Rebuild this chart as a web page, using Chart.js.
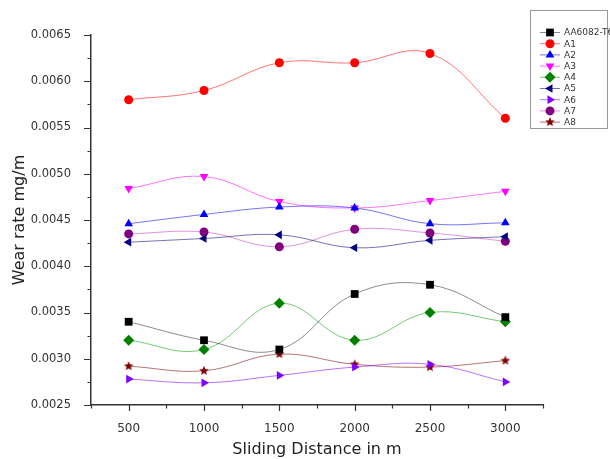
<!DOCTYPE html>
<html>
<head>
<meta charset="utf-8">
<script src="https://cdn.jsdelivr.net/npm/chart.js@4/dist/chart.umd.min.js"></script>
<style>
  body { margin: 0; background: #fff; }
  #wrap { width: 610px; height: 459px; }
</style>
</head>
<body>
<div id="wrap"><canvas id="myChart"></canvas></div>
<script>
var distances = [500, 1000, 1500, 2000, 2500, 3000];

var seriesNames = ["AA6082-T6", "A1", "A2", "A3", "A4", "A5", "A6", "A7", "A8"];

var aa6082 = [0.00340, 0.00320, 0.00310, 0.00370, 0.00380, 0.00345];
var a1 = [0.00580, 0.00590, 0.00620, 0.00620, 0.00630, 0.00560];
var a2 = [0.00446, 0.00456, 0.00464, 0.00463, 0.00446, 0.00447];
var a3 = [0.00484, 0.00497, 0.00470, 0.00463, 0.00471, 0.00481];
var a4 = [0.00320, 0.00310, 0.00360, 0.00320, 0.00350, 0.00340];
var a5 = [0.00426, 0.00430, 0.00434, 0.00420, 0.00428, 0.00432];
var a6 = [0.00278, 0.00274, 0.00282, 0.00291, 0.00294, 0.00275];
var a7 = [0.00435, 0.00437, 0.00421, 0.00440, 0.00436, 0.00427];
var a8 = [0.00292, 0.00287, 0.00305, 0.00294, 0.00291, 0.00298];

var xTitle = "Sliding Distance in m";
var yTitle = "Wear rate mg/m";

// star marker for A8
function makeStar(color, r) {
    var c = document.createElement("canvas");
    c.width = r * 2 + 2;
    c.height = r * 2 + 2;
    var g = c.getContext("2d");
    g.fillStyle = color;
    g.beginPath();
    for (var i = 0; i < 10; i++) {
        var rr = (i % 2 === 0) ? r : r * 0.45;
        var a = -Math.PI / 2 + i * Math.PI / 5;
        var px = r + 1 + rr * Math.cos(a);
        var py = r + 1 + rr * Math.sin(a);
        if (i === 0) g.moveTo(px, py); else g.lineTo(px, py);
    }
    g.closePath();
    g.fill();
    return c;
}

var styles = [
    { color: "#000000", line: "rgba(0,0,0,0.45)", point: "rect", rot: 0, r: 5.5 },
    { color: "#ff0000", line: "rgba(255,0,0,0.55)", point: "circle", rot: 0, r: 4.5 },
    { color: "#0000ff", line: "rgba(0,0,255,0.55)", point: "triangle", rot: 0, r: 5 },
    { color: "#ff00ff", line: "rgba(255,0,255,0.55)", point: "triangle", rot: 180, r: 5 },
    { color: "#008000", line: "rgba(0,160,0,0.55)", point: "rectRot", rot: 0, r: 5.5 },
    { color: "#000080", line: "rgba(0,0,128,0.55)", point: "triangle", rot: -90, r: 5 },
    { color: "#8000ff", line: "rgba(128,0,255,0.55)", point: "triangle", rot: 90, r: 5 },
    { color: "#800080", line: "rgba(200,60,200,0.55)", point: "circle", rot: 0, r: 4.5 },
    { color: "#800000", line: "rgba(128,0,0,0.55)", point: makeStar("#800000", 5), rot: 0, r: 5 }
];

var allSeries = [aa6082, a1, a2, a3, a4, a5, a6, a7, a8];

var datasets = allSeries.map(function (vals, i) {
    var s = styles[i];
    return {
        label: seriesNames[i],
        data: vals.map(function (v, j) { return { x: distances[j], y: v }; }),
        borderColor: s.line,
        borderWidth: 1,
        backgroundColor: s.color,
        pointBackgroundColor: s.color,
        pointBorderColor: s.color,
        pointBorderWidth: 0,
        pointStyle: s.point,
        pointRotation: s.rot,
        pointRadius: s.r,
        pointHoverRadius: s.r,
        tension: 0.4,
        fill: false
    };
});

function isMajor(v, step) {
    return Math.round(v / step) % 2 === 0;
}

// tick marks, long for labelled ticks and short for the ones between
var tickMarks = {
    id: "tickMarks",
    afterDraw: function (chart) {
        var ctx = chart.ctx;
        var xs = chart.scales.x, ys = chart.scales.y;
        var ca = chart.chartArea;
        ctx.save();
        ctx.strokeStyle = "#333";
        ctx.lineWidth = 1.2;
        ctx.beginPath();
        xs.ticks.forEach(function (t) {
            var px = Math.round(xs.getPixelForValue(t.value)) + 0.5;
            var len = isMajor(t.value, 250) ? 6 : 3.5;
            ctx.moveTo(px, ca.bottom);
            ctx.lineTo(px, ca.bottom + len);
        });
        ys.ticks.forEach(function (t) {
            var py = Math.round(ys.getPixelForValue(t.value)) + 0.5;
            var len = isMajor(t.value, 0.00025) ? 7 : 3.5;
            ctx.moveTo(ca.left, py);
            ctx.lineTo(ca.left - len, py);
        });
        ctx.stroke();
        ctx.restore();
    }
};

// framed legend in the top right corner: line + marker + name
var boxLegend = {
    id: "boxLegend",
    afterDraw: function (chart) {
        var ctx = chart.ctx;
        ctx.save();
        ctx.strokeStyle = "#9a9a9a";
        ctx.lineWidth = 1;
        ctx.strokeRect(530.5, 10.5, 77, 118);
        ctx.font = "9px 'DejaVu Sans'";
        ctx.textBaseline = "middle";
        ctx.textAlign = "left";
        chart.data.datasets.forEach(function (ds, i) {
            var y = 32.5 + i * 11.2;
            ctx.strokeStyle = ds.borderColor;
            ctx.lineWidth = 1;
            ctx.beginPath();
            ctx.moveTo(540, y);
            ctx.lineTo(560, y);
            ctx.stroke();
            ctx.fillStyle = ds.pointBackgroundColor;
            ctx.strokeStyle = ds.pointBorderColor;
            Chart.helpers.drawPoint(ctx, {
                pointStyle: ds.pointStyle,
                rotation: ds.pointRotation,
                radius: ds.pointRadius,
                borderWidth: 0
            }, 550, y);
            ctx.fillStyle = "#333";
            ctx.fillText(ds.label, 564, y + 0.5);
        });
        ctx.restore();
    }
};

var ctx = document.getElementById("myChart").getContext("2d");
var chart = new Chart(ctx, {
    type: "line",
    data: { datasets: datasets },
    options: {
        responsive: true,
        maintainAspectRatio: false,
        animation: false,
        events: [],
        layout: { padding: { left: 0, top: 35, right: 67, bottom: 0 } },
        plugins: {
            legend: { display: false },
            tooltip: { enabled: false }
        },
        scales: {
            x: {
                type: "linear",
                min: 250,
                max: 3250,
                afterFit: function (scale) { scale.height = 54; },
                grid: { display: false },
                border: { display: true, color: "#333", width: 1.5 },
                ticks: {
                    stepSize: 250,
                    autoSkip: false,
                    maxRotation: 0,
                    padding: 9,
                    color: "#333",
                    font: { family: "DejaVu Sans", size: 12 },
                    callback: function (v) { return isMajor(v, 250) ? String(v) : ""; }
                },
                title: {
                    display: true,
                    text: xTitle,
                    color: "#222",
                    font: { family: "DejaVu Sans", size: 16 },
                    padding: { top: 0, bottom: 0 }
                }
            },
            y: {
                min: 0.0025,
                max: 0.0065,
                afterFit: function (scale) { scale.width = 91; },
                grid: { display: false },
                border: { display: true, color: "#333", width: 1.5 },
                ticks: {
                    stepSize: 0.00025,
                    autoSkip: false,
                    padding: 12,
                    color: "#333",
                    font: { family: "DejaVu Sans", size: 11.5 },
                    callback: function (v) { return isMajor(v, 0.00025) ? v.toFixed(4) : ""; }
                },
                title: {
                    display: true,
                    text: yTitle,
                    color: "#222",
                    font: { family: "DejaVu Sans", size: 16 },
                    padding: { top: 10, bottom: 0 }
                }
            }
        }
    },
    plugins: [tickMarks, boxLegend]
});
</script>
</body>
</html>
